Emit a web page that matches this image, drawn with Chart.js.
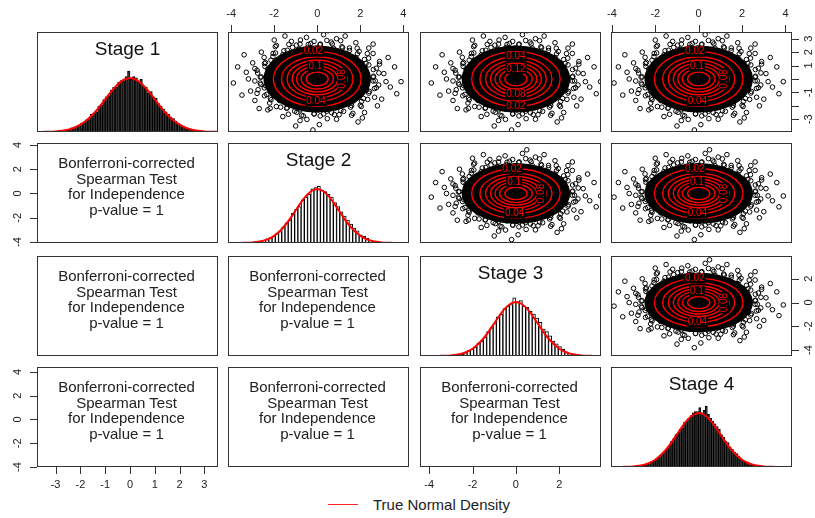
<!DOCTYPE html>
<html>
<head>
<meta charset="utf-8">
<script src="https://cdn.jsdelivr.net/npm/chart.js@4.4.1/dist/chart.umd.min.js"></script>
<style>
  body { margin: 0; width: 815px; height: 518px; overflow: hidden; background: #fff; position: relative;
         font-family: "Liberation Sans", Arial, sans-serif; }
  canvas { position: absolute; }
  .txt { position: absolute; width: 181px; text-align: center; font-size: 15px; line-height: 15.7px; color: #222; z-index: 2; }
</style>
</head>
<body>
<div style="position:absolute;left:328px;top:504px;width:30px;height:1px;background:#f22"></div>
<div style="position:absolute;left:373px;top:496px;font-size:15px;line-height:18px;color:#222">True Normal Density</div>
<script>
// ---- data ----
const stageNames = ['Stage 1', 'Stage 2', 'Stage 3', 'Stage 4'];
const testText = ['Bonferroni-corrected', 'Spearman Test', 'for Independence', 'p-value = 1'];

// histogram bar heights (density)
const stage1 = [0.004,0.0,0.012,0.01,0.02,0.016,0.03,0.028,0.042,0.05,
  0.064,0.07,0.09,0.1,0.13,0.14,0.15,0.19,0.2,0.24,
  0.26,0.27,0.31,0.33,0.33,0.37,0.38,0.38,0.41,0.45,
  0.39,0.41,0.40,0.37,0.39,0.34,0.33,0.29,0.30,0.26,
  0.25,0.21,0.19,0.17,0.15,0.13,0.11,0.1,0.08,0.065,
  0.05,0.04,0.035,0.022,0.02,0.012,0.01,0.006,0.004,0.0];
const stage2 = [0.0,0.004,0.008,0.02,0.03,0.035,0.05,0.07,0.085,0.12,
  0.15,0.17,0.22,0.25,0.27,0.32,0.34,0.36,0.40,0.41,
  0.42,0.39,0.38,0.36,0.34,0.30,0.27,0.23,0.20,0.17,
  0.14,0.11,0.09,0.06,0.05,0.035,0.02,0.01,0.005,0.0];
const stage3 = [0.003,0.006,0.01,0.015,0.025,0.04,0.05,0.065,0.095,0.11,
  0.14,0.18,0.21,0.24,0.29,0.31,0.35,0.37,0.38,0.43,
  0.40,0.41,0.37,0.36,0.33,0.31,0.28,0.25,0.20,0.18,
  0.15,0.11,0.09,0.07,0.05,0.03,0.02,0.012,0.005,0.002];
const stage4 = [0.0,0.003,0.006,0.01,0.015,0.02,0.022,0.03,0.04,0.05,
  0.06,0.075,0.09,0.1,0.12,0.14,0.16,0.19,0.21,0.24,
  0.25,0.28,0.29,0.33,0.34,0.36,0.38,0.40,0.41,0.41,
  0.44,0.40,0.42,0.45,0.39,0.36,0.34,0.32,0.30,0.28,
  0.24,0.22,0.19,0.18,0.15,0.13,0.11,0.1,0.08,0.06,
  0.05,0.04,0.03,0.025,0.018,0.012,0.008,0.005,0.003,0.0];
const binStart = [-2.95, -2.925, -2.925, -2.95];
const binWidth = [0.1, 0.15, 0.15, 0.1];

// true normal density curve
const densityX = [-4.5,-4.25,-4,-3.75,-3.5,-3.25,-3,-2.75,-2.5,-2.25,-2,-1.75,-1.5,-1.25,-1,-0.75,-0.5,-0.25,0,
  0.25,0.5,0.75,1,1.25,1.5,1.75,2,2.25,2.5,2.75,3,3.25,3.5,3.75,4,4.25,4.5];
const densityY = [0,0,0.0001,0.0004,0.0009,0.002,0.0044,0.0091,0.0175,0.0317,0.054,0.0863,0.1295,0.1826,0.242,0.3011,0.3521,0.3867,0.3989,
  0.3867,0.3521,0.3011,0.242,0.1826,0.1295,0.0863,0.054,0.0317,0.0175,0.0091,0.0044,0.002,0.0009,0.0004,0.0001,0,0];

// scatter fringe points (the dense middle is drawn as a solid core)
const cloudX = [2.25,2.62,2.3,2.75,2.12,2.4,1.92,2.2,1.8,1.95,
  1.42,1.5,1.05,1.15,0.75,0.65,0.35,0.15,-0.05,-0.3,
  -0.45,-0.8,-0.85,-1.15,-1.2,-1.55,-1.6,-2.05,-1.8,-2.15,
  -2.0,-2.45,-2.3,-2.8,-2.25,-2.6,-2.2,-2.65,-2.4,-2.75,
  -2.1,-2.35,-1.9,-2.15,-1.75,-1.9,-1.45,-1.4,-1.1,-1.05,
  -0.8,-0.65,-0.4,-0.15,0.05,0.3,0.45,0.8,0.85,1.1,
  1.15,1.55,1.6,2.0,1.8,2.15,1.95,2.4,2.3,2.75,2.3,2.6,
  2.60,2.87,2.61,2.90,2.27,2.39,2.33,1.87,1.86,1.50,1.18,1.09,0.70,0.45,0.13,
  -0.15,-0.41,-0.78,-0.97,-1.32,-1.39,-1.95,-1.94,-2.06,-2.47,-2.41,-2.43,-2.90,-2.77,-2.65,
  -2.90,-2.62,-2.46,-2.80,-2.45,-2.18,-2.21,-2.19,-1.70,-1.42,-1.34,-0.95,-0.73,-0.48,-0.14,
  0.14,0.47,0.67,1.02,1.23,1.66,1.60,2.05,2.06,2.35,2.67,2.43,2.66,2.86,2.70,
  3.1,3.4,2.9,3.6,2.6,3.0,2.8,3.9,2.4,1.8,
  0.9,0.3,-0.5,-1.2,-1.9,-2.6,-3.0,-3.3,-3.7,-3.9,
  -3.1,-2.9,-2.3,-1.6,-0.8,0.1,0.9,1.6,2.2,-3.5,
  3.3,2.1,-2.0,-0.2,1.3,-3.4,3.7,-1.0,2.6,-2.7,
  0.5,-3.2,3.2,-1.5,1.9];
const cloudY = [0.05,0.2,0.45,0.8,0.85,1.05,1.2,1.45,1.6,2.05,
  1.85,2.12,2.0,2.4,2.3,2.75,2.22,2.6,2.3,2.65,
  2.35,2.6,2.2,2.35,1.95,2.1,1.8,1.9,1.45,1.4,
  1.05,1.15,0.75,0.65,0.35,0.15,-0.05,-0.3,-0.5,-0.8,
  -0.85,-1.15,-1.2,-1.55,-1.6,-2.05,-1.8,-2.15,-2.0,-2.4,
  -2.3,-2.75,-2.25,-2.6,-2.3,-2.6,-2.4,-2.65,-2.15,-2.35,
  -1.9,-2.1,-1.8,-1.95,-1.45,-1.45,-1.1,-1.05,-0.8,-0.65,-0.35,-0.15,
  0.14,0.45,0.70,1.11,1.16,1.55,1.89,1.87,2.29,2.31,2.32,2.85,2.61,2.87,2.55,
  2.80,2.57,2.90,2.52,2.58,2.14,2.41,1.94,1.67,1.61,1.23,0.93,0.78,0.44,0.14,
  -0.15,-0.41,-0.66,-1.07,-1.25,-1.42,-1.79,-2.19,-2.10,-2.18,-2.63,-2.48,-2.70,-3.01,-2.60,
  -2.75,-2.96,-2.51,-2.66,-2.41,-2.56,-1.98,-2.05,-1.67,-1.52,-1.36,-0.93,-0.71,-0.45,-0.14,
  0.4,-0.6,1.3,0.9,1.9,-1.5,-2.0,-0.2,2.3,2.7,
  3.0,3.3,3.1,2.8,2.5,2.0,1.2,0.5,0.9,-0.3,
  -0.9,-1.6,-2.3,-2.8,-3.1,-3.4,-3.0,-2.7,-2.5,-1.2,
  1.6,-2.9,2.9,-3.8,3.2,1.8,-1.1,-3.5,2.6,-2.2,
  3.6,0.0,-0.2,3.2,-3.2];
const coreRadius = 2.5;

// contour levels of the bivariate normal and their radii
const contourLevels = ['0.02','0.04','0.06','0.08','0.1','0.12','0.14'];
const contourRadii = [2.04, 1.66, 1.40, 1.17, 0.96, 0.75, 0.51];

// tick values
const topTicks = [-4, -2, 0, 2, 4];
const leftTicks = [-4, -2, 0, 2, 4];
const bottomTicksC1 = [-3, -2, -1, 0, 1, 2, 3];
const bottomTicksC3 = [-4, -2, 0, 2];
const rightTicksR1 = [-3, -2, -1, 0, 1, 2, 3];
const rightLabelsR1 = [-3, -1, 1, 2, 3];
const rightTicksR3 = [-4, -2, 0, 2];

// axis ranges for each column / row
const xRanges = [[-3.75, 3.55], [-4.15, 4.27], [-4.42, 3.92], [-4.04, 4.3]];
const yRanges = [[-3.95, 3.5], [-4.08, 4.16], [-4.5, 3.92], [-4.0, 4.42]];
const histMax = 0.74;

// ---- layout ----
const colLeft = [37, 228, 420, 611];
const rowTop = [32, 143, 256, 367];
const PW = 181, PH = 100, M = 30;
const labelsA = [[0, 95], [4, 95], [1, 268], [3, 0]];
const labelsB = [[1, 90], [5, 90], [3, 270], [0, 270]];
const barFill = ['#333', '#fff', '#fff', '#111'];

function makeCanvas(r, c) {
    const cv = document.createElement('canvas');
    cv.width = PW + 2 * M;
    cv.height = PH + 2 * M;
    cv.style.left = (colLeft[c] - M) + 'px';
    cv.style.top = (rowTop[r] - M) + 'px';
    document.body.appendChild(cv);
    return cv.getContext('2d');
}

function baseOptions(r, c, yr) {
    return {
        responsive: false,
        animation: false,
        events: [],
        layout: { padding: M },
        plugins: { legend: { display: false }, tooltip: { enabled: false } },
        scales: {
            x: { type: 'linear', display: false, offset: false, min: xRanges[c][0], max: xRanges[c][1] },
            y: { type: 'linear', display: false, min: yr[0], max: yr[1] }
        }
    };
}

function drawAxis(chart, side, ticks, labels) {
    const { ctx, chartArea: a, scales } = chart;
    ctx.save();
    ctx.strokeStyle = '#333';
    ctx.lineWidth = 1;
    ctx.fillStyle = '#222';
    ctx.font = '11px "Liberation Sans", Arial, sans-serif';
    ctx.textAlign = 'center';
    ctx.textBaseline = 'middle';
    const horiz = side === 'top' || side === 'bottom';
    ticks.forEach(v => {
        ctx.beginPath();
        if (horiz) {
            const px = Math.round(scales.x.getPixelForValue(v)) + 0.5;
            const y0 = side === 'top' ? a.top : a.bottom;
            ctx.moveTo(px, y0);
            ctx.lineTo(px, side === 'top' ? y0 - 7 : y0 + 7);
        } else {
            const py = Math.round(scales.y.getPixelForValue(v)) + 0.5;
            const x0 = side === 'left' ? a.left : a.right;
            ctx.moveTo(x0, py);
            ctx.lineTo(side === 'left' ? x0 - 7 : x0 + 7, py);
        }
        ctx.stroke();
    });
    labels.forEach(v => {
        if (horiz) {
            const px = scales.x.getPixelForValue(v);
            ctx.fillText(String(v), px, side === 'top' ? a.top - 18 : a.bottom + 18);
        } else {
            const py = scales.y.getPixelForValue(v);
            ctx.save();
            ctx.translate(side === 'left' ? a.left - 19 : a.right + 17, py);
            ctx.rotate(-Math.PI / 2);
            ctx.fillText(String(v), 0, 0);
            ctx.restore();
        }
    });
    ctx.restore();
}

function panelPlugin(cfg) {
    return {
        id: 'panel',
        beforeDatasetsDraw(chart) {
            if (!cfg.scatter) return;
            const { ctx, chartArea: a, scales: { x, y } } = chart;
            const cx = x.getPixelForValue(0), cy = y.getPixelForValue(0);
            ctx.save();
            ctx.beginPath();
            ctx.rect(a.left, a.top, a.right - a.left, a.bottom - a.top);
            ctx.clip();
            ctx.beginPath();
            ctx.ellipse(cx, cy, x.getPixelForValue(coreRadius) - cx, cy - y.getPixelForValue(coreRadius), 0, 0, Math.PI * 2);
            ctx.fillStyle = '#000';
            ctx.fill();
            ctx.restore();
        },
        afterDatasetsDraw(chart) {
            if (!cfg.scatter) return;
            const { ctx, scales: { x, y } } = chart;
            const cx = x.getPixelForValue(0), cy = y.getPixelForValue(0);
            ctx.save();
            ctx.strokeStyle = '#f00';
            ctx.lineWidth = 1.4;
            contourRadii.forEach(rad => {
                ctx.beginPath();
                ctx.ellipse(cx, cy, x.getPixelForValue(rad) - cx, cy - y.getPixelForValue(rad), 0, 0, Math.PI * 2);
                ctx.stroke();
            });
            ctx.font = '10px "Liberation Sans", Arial, sans-serif';
            ctx.textAlign = 'center';
            ctx.textBaseline = 'middle';
            cfg.labels.forEach(([i, ang]) => {
                const t = ang * Math.PI / 180;
                const rad = contourRadii[i];
                const px = x.getPixelForValue(rad * Math.cos(t));
                const py = y.getPixelForValue(rad * Math.sin(t));
                const w = ctx.measureText(contourLevels[i]).width + 2;
                ctx.save();
                ctx.translate(px, py);
                if (ang === 0) ctx.rotate(-Math.PI / 2);
                ctx.fillStyle = '#000';
                ctx.fillRect(-w / 2, -5, w, 10);
                ctx.fillStyle = '#f00';
                ctx.fillText(contourLevels[i], 0, 0);
                ctx.restore();
            });
            ctx.restore();
        },
        afterDraw(chart) {
            const { ctx, chartArea: a } = chart;
            ctx.save();
            ctx.strokeStyle = '#333';
            ctx.lineWidth = 1;
            ctx.strokeRect(Math.round(a.left) + 0.5, Math.round(a.top) + 0.5,
                Math.round(a.right - a.left) - 1, Math.round(a.bottom - a.top) - 1);
            if (cfg.title) {
                ctx.fillStyle = '#111';
                ctx.font = '19px "Liberation Sans", Arial, sans-serif';
                ctx.textAlign = 'center';
                ctx.textBaseline = 'alphabetic';
                ctx.fillText(cfg.title, (a.left + a.right) / 2, a.top + 23);
            }
            ctx.restore();
            (cfg.axes || []).forEach(ax => drawAxis(chart, ax[0], ax[1], ax[2]));
        }
    };
}

function histogramPanel(k) {
    const values = [stage1, stage2, stage3, stage4][k];
    const centers = values.map((_, i) => binStart[k] + i * binWidth[k]);
    new Chart(makeCanvas(k, k), {
        type: 'bar',
        data: {
            datasets: [
                {
                    type: 'line',
                    order: 0,
                    data: densityX.map((v, i) => ({ x: v, y: densityY[i] })),
                    borderColor: '#f00',
                    borderWidth: 2,
                    pointRadius: 0,
                    cubicInterpolationMode: 'monotone'
                },
                {
                    type: 'bar',
                    order: 1,
                    data: centers.map((v, i) => ({ x: v, y: values[i] })),
                    backgroundColor: barFill[k],
                    borderColor: '#000',
                    borderWidth: 1,
                    borderSkipped: 'start',
                    barPercentage: 1,
                    categoryPercentage: 1
                }
            ]
        },
        options: baseOptions(k, k, [0, histMax]),
        plugins: [panelPlugin({ title: stageNames[k] })]
    });
}

function scatterPanel(r, c, labels, axes) {
    new Chart(makeCanvas(r, c), {
        type: 'scatter',
        data: {
            datasets: [{
                data: cloudX.map((v, i) => ({ x: v, y: cloudY[i] })),
                pointRadius: 2.3,
                borderWidth: 1,
                borderColor: '#000',
                backgroundColor: 'rgba(0,0,0,0)'
            }]
        },
        options: baseOptions(r, c, yRanges[r]),
        plugins: [panelPlugin({ scatter: true, labels: labels, axes: axes })]
    });
}

function textPanel(r, c, axes) {
    new Chart(makeCanvas(r, c), {
        type: 'scatter',
        data: { datasets: [{ data: [] }] },
        options: baseOptions(r, c, yRanges[r]),
        plugins: [panelPlugin({ axes: axes })]
    });
    const d = document.createElement('div');
    d.className = 'txt';
    d.style.left = (colLeft[c] - 1) + 'px';
    d.style.top = (rowTop[r] + 12) + 'px';
    d.innerHTML = testText.join('<br>');
    document.body.appendChild(d);
}

[0, 1, 2, 3].forEach(histogramPanel);

scatterPanel(0, 1, labelsA, [['top', topTicks, topTicks]]);
scatterPanel(0, 2, labelsB, []);
scatterPanel(0, 3, labelsA, [['top', topTicks, topTicks], ['right', rightTicksR1, rightLabelsR1]]);
scatterPanel(1, 2, labelsA, []);
scatterPanel(1, 3, labelsA, []);
scatterPanel(2, 3, labelsA, [['right', rightTicksR3, rightTicksR3]]);

textPanel(1, 0, [['left', leftTicks, leftTicks]]);
textPanel(2, 0, []);
textPanel(2, 1, []);
textPanel(3, 0, [['left', leftTicks, leftTicks], ['bottom', bottomTicksC1, bottomTicksC1]]);
textPanel(3, 1, []);
textPanel(3, 2, [['bottom', bottomTicksC3, bottomTicksC3]]);
</script>
</body>
</html>
